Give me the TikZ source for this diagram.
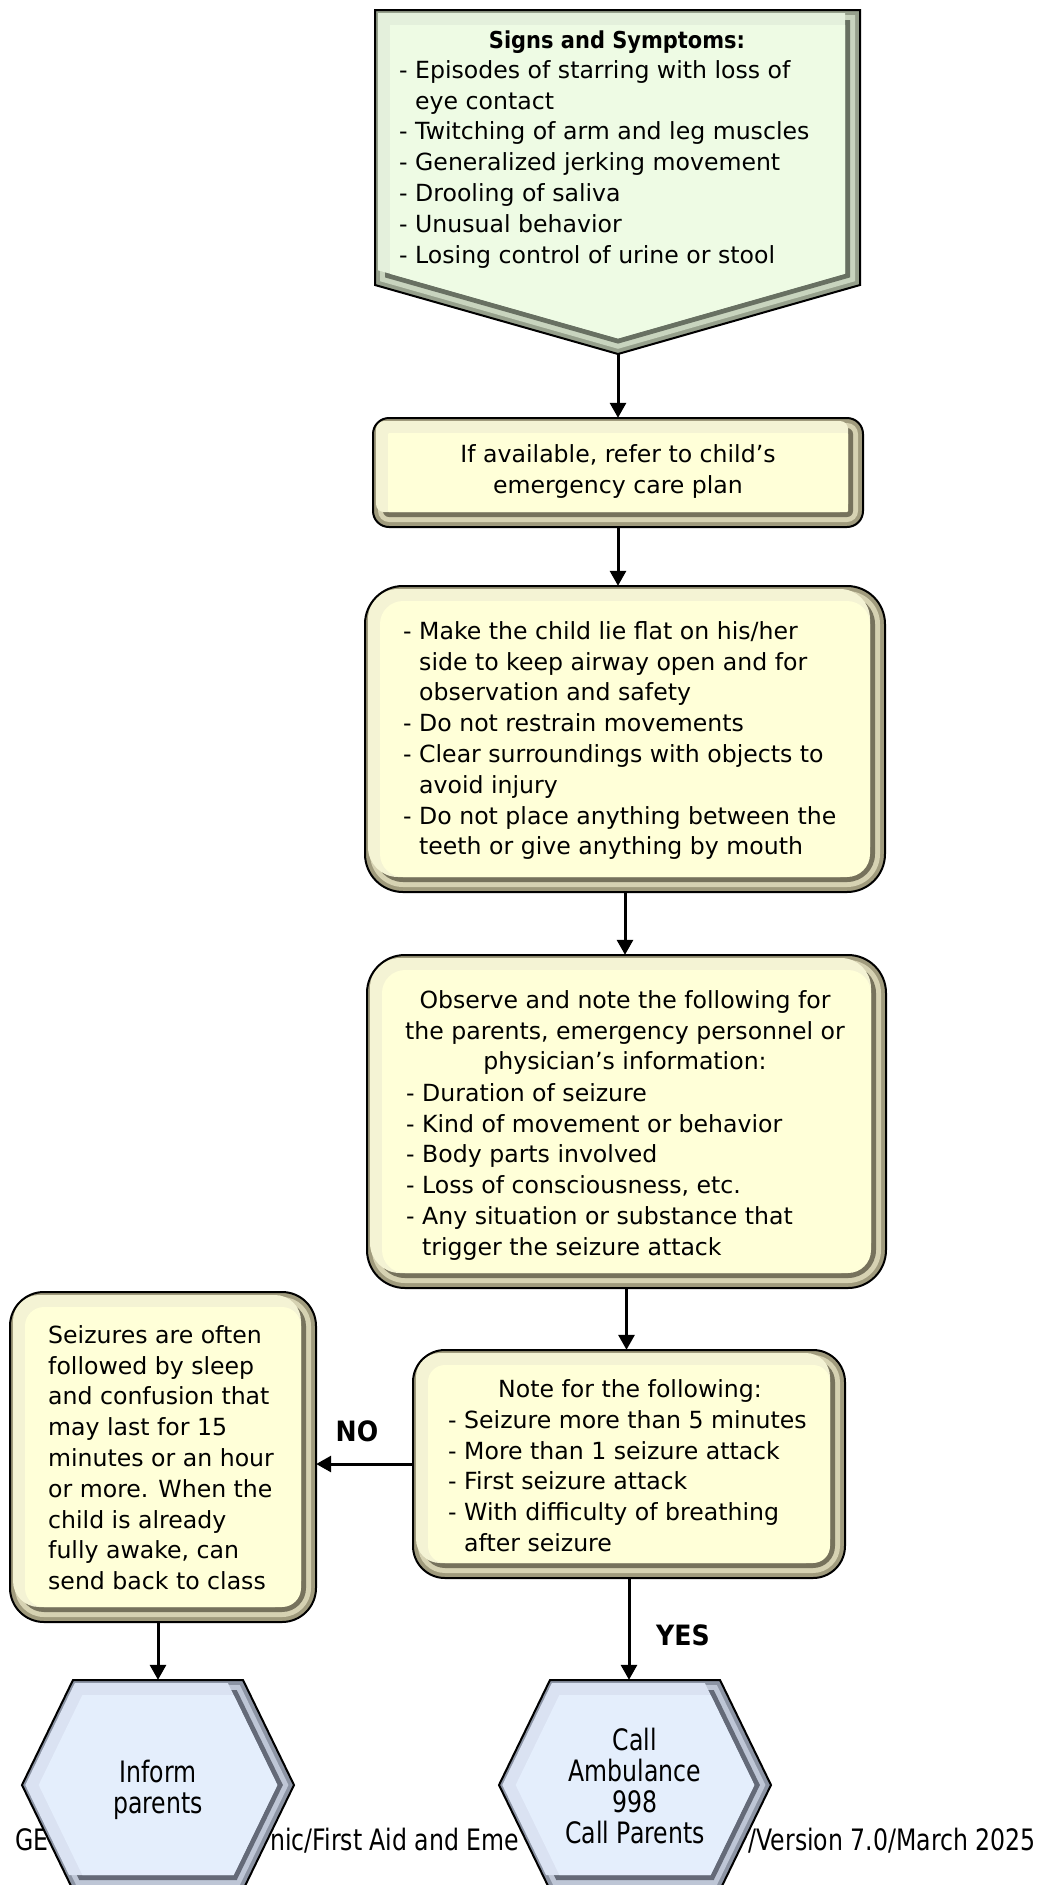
\documentclass[tikz,border=0pt]{standalone}
\usepackage{fontspec}
\setmainfont{DejaVu Sans}
\newfontfamily\narrowfont[FakeStretch=0.8]{DejaVu Sans}
\newfontfamily\labelfont[FakeStretch=0.9]{DejaVu Sans}
\usetikzlibrary{arrows.meta,fit}

% bevel palettes: F face, L upper-left slope, T/M/D lower-right slopes
\definecolor{yF}{RGB}{255,255,216}
\definecolor{yL}{RGB}{244,243,212}
\definecolor{yT}{RGB}{214,210,178}
\definecolor{yM}{RGB}{160,155,125}
\definecolor{yD}{RGB}{118,114,92}
\definecolor{gF}{RGB}{238,251,228}
\definecolor{gL}{RGB}{228,240,220}
\definecolor{gT}{RGB}{200,212,190}
\definecolor{gM}{RGB}{150,160,140}
\definecolor{gD}{RGB}{104,112,98}
\definecolor{bF}{RGB}{228,238,252}
\definecolor{bL}{RGB}{218,226,242}
\definecolor{bT}{RGB}{190,198,214}
\definecolor{bM}{RGB}{140,148,164}
\definecolor{bD}{RGB}{100,106,120}

\newcommand\hangin{\hspace*{16pt}}
\newcommand\firststrut{\rule{0pt}{20pt}}
\newcommand\hexstrut{\rule{0pt}{24pt}}

\tikzset{
  outline/.style={draw=black, line width=2pt},
  arr/.style={line width=3pt, -{Triangle[length=15pt,width=16pt]}},
  body/.style={inner sep=0pt, font=\fontsize{23.6}{30.8}\selectfont},
  bodyl/.style={body, align=left},
  bodyc/.style={body, align=center},
  heading/.style={inner sep=0pt, font=\labelfont\bfseries\fontsize{23.3}{25}\selectfont},
  hextext/.style={inner sep=0pt, align=center, font=\narrowfont\fontsize{29.5}{31}\selectfont},
  foot/.style={inner sep=0pt, font=\narrowfont\fontsize{29.5}{31}\selectfont},
  answer/.style={inner sep=0pt, font=\labelfont\bfseries\fontsize{28}{30}\selectfont},
  hexring/.style={insert path={({-85+0.625*#1},{-105+#1}) -- ({85-0.625*#1},{-105+#1})
      -- ({136-1.111*#1},0) -- ({85-0.625*#1},{105-#1}) -- ({-85+0.625*#1},{105-#1})
      -- ({-136+1.111*#1},0) -- cycle}},
}

% rounded bevelled box: name, x1, y1, x2, y2, corner radius, palette
\newcommand\bevelbox[7]{%
  \fill[#7M, rounded corners=#6] (#2,#3) rectangle (#4,#5);
  \fill[#7T, rounded corners=#6-5] ({#2+5},{#3+5}) rectangle ({#4-5},{#5-5});
  \fill[#7D, rounded corners=#6-10] ({#2+10},{#3+10}) rectangle ({#4-10},{#5-10});
  \fill[#7L, rounded corners=#6-8] ({#2+3},{#3+3}) rectangle ({#4-15},{#5-15});
  \fill[#7F, rounded corners=#6-15] ({#2+15},{#3+15}) rectangle ({#4-15},{#5-15});
  \draw[outline, rounded corners=#6] (#2,#3) rectangle (#4,#5);
  \node[fit={(#2,#3) (#4,#5)}, inner sep=0pt] (#1) {};
}

% bevelled hexagon: name, centre x, centre y
\newcommand\bevelhex[3]{%
  \begin{scope}[shift={(#2,#3)}]
    \fill[bM, hexring=0];
    \fill[bT, hexring=5];
    \fill[bD, hexring=10];
    \fill[bL] (-83.1,-102) -- (69.8,-102) -- (119.3,0) -- (75.6,90)
      -- (-88.95,90) -- (-132.7,0) -- cycle;
    \fill[bF, hexring=15];
    \draw[outline, hexring=0];
    \node[fit={(-136,-105) (136,105)}, inner sep=0pt] (#1) {};
  \end{scope}}

\begin{document}
\begin{tikzpicture}[x=1pt, y=-1pt]
\path[use as bounding box] (0,0) rectangle (1042,1885);
\clip (0,0) rectangle (1042,1885);
\fill[white] (0,0) rectangle (1042,1885);

% footer line
\node[foot, anchor=base west] (f1) at (15,1850) {GE};
\node[foot, anchor=base west] (f2) at (270,1850) {nic/First Aid and Eme};
\node[foot, anchor=base east] (f3) at (1036,1850) {/Version 7.0/March 2025};

% signs and symptoms pentagon
\fill[gM] (375,10) -- (860,10) -- (860,285) -- (618,354) -- (375,285) -- cycle;
\fill[gT] (380,15) -- (855,15) -- (855,281.2) -- (618,348.8) -- (380,281.2) -- cycle;
\fill[gD] (385,20) -- (850,20) -- (850,277.4) -- (618,343.6) -- (385,277.4) -- cycle;
\fill[gL] (378,13) -- (845,13) -- (845,273.7) -- (618,338.4) -- (378,270.3) -- cycle;
\fill[gF] (390,25) -- (845,25) -- (845,273.7) -- (618,338.4) -- (390,273.7) -- cycle;
\draw[outline] (375,10) -- (860,10) -- (860,285) -- (618,354) -- (375,285) -- cycle;
\node[fit={(375,10) (860,354)}, inner sep=0pt] (b1) {};
\coordinate (b1tip) at (618,354);

\bevelbox{b2}{373}{418}{863}{527}{16}{y}
\bevelbox{b3}{365}{586}{885}{892}{38}{y}
\bevelbox{b4}{367}{955}{886}{1288}{38}{y}
\bevelbox{b5}{413}{1350}{845}{1578}{32}{y}
\bevelbox{b6}{10}{1292}{316}{1622}{34}{y}

\bevelhex{h1}{158}{1785}
\bevelhex{h2}{635}{1785}

% texts
\node[heading, anchor=base] (t1h) at (617,48) {Signs and Symptoms:};
\node[bodyl, anchor=north west] (t1) at (399,58) {\firststrut- Episodes of starring with loss of\\
  \hangin eye contact\\
  - Twitching of arm and leg muscles\\
  - Generalized jerking movement\\
  - Drooling of saliva\\
  - Unusual behavior\\
  - Losing control of urine or stool};

\node[bodyc, anchor=north] (t2) at (618,442) {\firststrut If available, refer to child’s\\
  emergency care plan};

\node[bodyl, anchor=north west] (t3) at (403,619) {\firststrut- Make the child lie flat on his/her\\
  \hangin side to keep airway open and for\\
  \hangin observation and safety\\
  - Do not restrain movements\\
  - Clear surroundings with objects to\\
  \hangin avoid injury\\
  - Do not place anything between the\\
  \hangin teeth or give anything by mouth};

\node[bodyc, anchor=north] (t4a) at (625,988) {\firststrut Observe and note the following for\\
  the parents, emergency personnel or\\
  physician’s information:};
\node[bodyl, anchor=north west] (t4b) at (406,1081) {\firststrut- Duration of seizure\\
  - Kind of movement or behavior\\
  - Body parts involved\\
  - Loss of consciousness, etc.\\
  - Any situation or substance that\\
  \hangin trigger the seizure attack};

\node[bodyc, anchor=north] (t5a) at (630,1377) {\firststrut Note for the following:};
\node[bodyl, anchor=north west] (t5b) at (448,1408) {\firststrut- Seizure more than 5 minutes\\
  - More than 1 seizure attack\\
  - First seizure attack\\
  - With difficulty of breathing\\
  \hangin after seizure};

\node[bodyl, anchor=north west] (t6) at (48,1323) {\firststrut Seizures are often\\
  followed by sleep\\
  and confusion that\\
  may last for 15\\
  minutes or an hour\\
  or more. When the\\
  child is already\\
  fully awake, can\\
  send back to class};

\node[hextext, anchor=north] (h1t) at (158,1758) {\hexstrut Inform\\ parents};
\node[hextext, anchor=north] (h2t) at (635,1726) {\hexstrut Call\\ Ambulance\\ 998\\ Call Parents};

% connectors
\draw[arr] (b1tip) -- (b2.north);
\draw[arr] (b2.south) -- (b2.south |- b3.north);
\draw[arr] (b3.south) -- (b3.south |- b4.north);
\draw[arr] (b4.south) -- (b4.south |- b5.north);
\draw[arr] (b5.west) -- (b5.west -| b6.east);
\draw[arr] (b5.south) -- (b5.south |- h2.north);
\draw[arr] (h1.north |- b6.south) -- (h1.north);

\node[answer, anchor=base] (no) at (357,1441) {NO};
\node[answer, anchor=base] (yes) at (683,1645) {YES};
\end{tikzpicture}
\end{document}
